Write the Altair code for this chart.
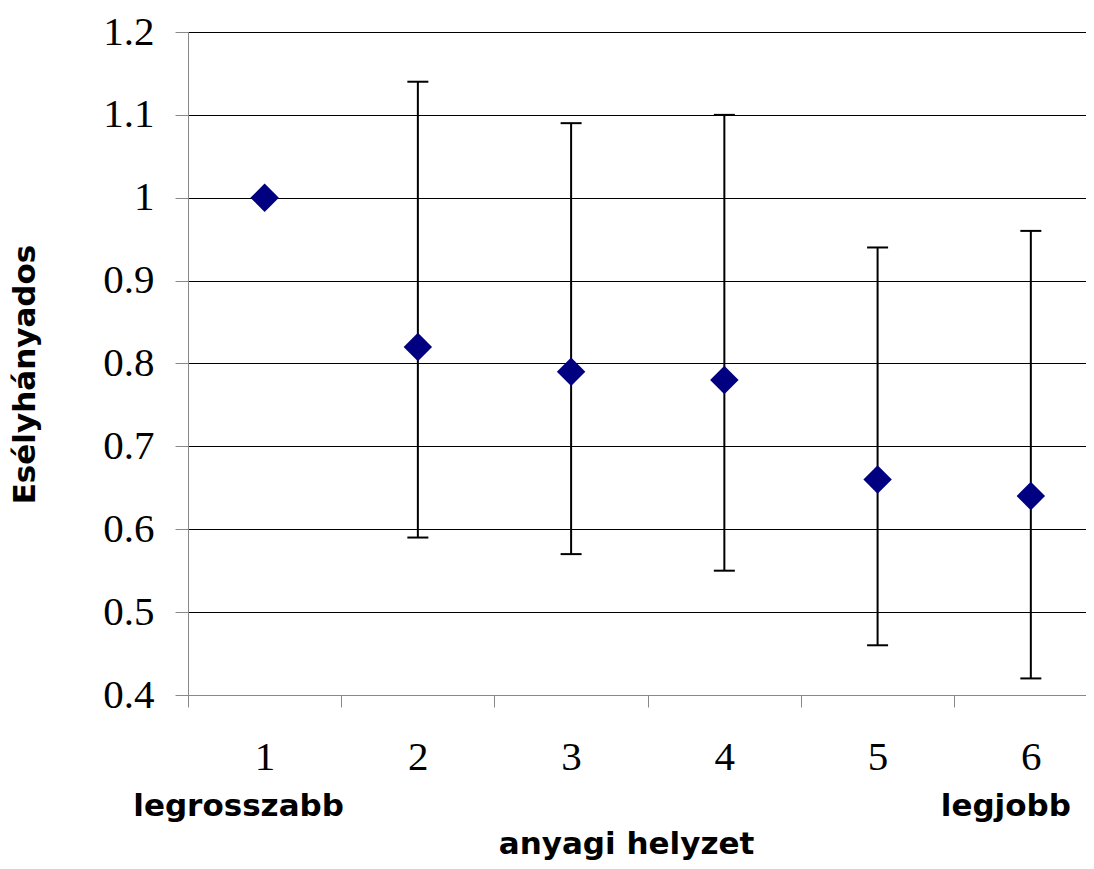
import altair as alt
import pandas as pd

# Data
categories = [1, 2, 3, 4, 5, 6]
odds_ratio = [1.00, 0.82, 0.79, 0.78, 0.66, 0.64]
ci_low = [None, 0.59, 0.57, 0.55, 0.46, 0.42]
ci_high = [None, 1.14, 1.09, 1.10, 0.94, 0.96]

y_ticks = [0.4, 0.5, 0.6, 0.7, 0.8, 0.9, 1.0, 1.1, 1.2]
x_axis_values = [0.5, 1, 1.5, 2, 2.5, 3, 3.5, 4, 4.5, 5, 5.5, 6]

end_labels = ["legrosszabb", "legjobb"]
end_categories = [1, 6]

y_title = "Esélyhányados"
x_title = "anyagi helyzet"

points = pd.DataFrame({"cat": categories, "or": odds_ratio})
errs = pd.DataFrame({"cat": categories, "lo": ci_low, "hi": ci_high}).dropna()
ann = pd.DataFrame({"cat": end_categories, "txt": end_labels})

serif = "Liberation Serif"
sans = "DejaVu Sans"

x_scale = alt.Scale(domain=[0.5, 6.36], nice=False, zero=False)
y_scale = alt.Scale(domain=[0.4, 1.2], nice=False, zero=False)

x_axis = alt.Axis(
    values=x_axis_values,
    labelExpr="datum.value % 1 === 0 ? '' + datum.value : ''",
    tickOpacity={"condition": {"test": "datum.value % 1 !== 0", "value": 1}, "value": 0},
    grid=False,
    tickSize=12,
    labelPadding=62,
    labelBaseline="alphabetic",
    labelFont=serif,
    labelFontSize=41,
    labelColor="black",
    labelOverlap=False,
    labelFlush=False,
    title=x_title,
    titleFont=sans,
    titleFontSize=31,
    titleFontWeight="bold",
    titleColor="black",
    titleBaseline="alphabetic",
    titleX=438,
    titleY=158,
    titleAnchor="middle",
)

y_axis = alt.Axis(
    values=y_ticks,
    format=".1~f",
    grid=True,
    gridColor="black",
    gridWidth=1,
    tickSize=13,
    labelPadding=21,
    labelFont=serif,
    labelFontSize=41,
    labelColor="black",
    labelOverlap=False,
    labelFlush=False,
    title=y_title,
    titleFont=sans,
    titleFontSize=31,
    titleFontWeight="bold",
    titleColor="black",
    titleBaseline="alphabetic",
    titleAngle=270,
    titleX=-154,
    titleY=342,
    titleAnchor="middle",
)

base_x = alt.X("cat:Q", scale=x_scale, axis=x_axis)

rules = alt.Chart(errs).mark_rule(color="black", strokeWidth=2).encode(
    x=base_x,
    y=alt.Y("lo:Q", scale=y_scale, axis=y_axis),
    y2="hi:Q",
)

caps_lo = alt.Chart(errs).mark_tick(
    color="black", orient="horizontal", size=21, thickness=2, opacity=1
).encode(x=alt.X("cat:Q", scale=x_scale), y=alt.Y("lo:Q", scale=y_scale))

caps_hi = alt.Chart(errs).mark_tick(
    color="black", orient="horizontal", size=21, thickness=2, opacity=1
).encode(x=alt.X("cat:Q", scale=x_scale), y=alt.Y("hi:Q", scale=y_scale))

pts = alt.Chart(points).mark_point(
    shape="diamond", filled=True, size=810, color="#000080", opacity=1
).encode(x=alt.X("cat:Q", scale=x_scale), y=alt.Y("or:Q", scale=y_scale))

ann_left = alt.Chart(ann[ann["cat"] == end_categories[0]]).mark_text(
    font=sans, fontSize=31, fontWeight="bold", color="black",
    baseline="alphabetic", align="center", dx=-26
).encode(x=alt.X("cat:Q", scale=x_scale), y=alt.value(784), text="txt:N")

ann_right = alt.Chart(ann[ann["cat"] == end_categories[1]]).mark_text(
    font=sans, fontSize=31, fontWeight="bold", color="black",
    baseline="alphabetic", align="center", dx=-25
).encode(x=alt.X("cat:Q", scale=x_scale), y=alt.value(784), text="txt:N")

chart = alt.layer(rules, caps_lo, caps_hi, pts, ann_left, ann_right).properties(
    width=898,
    height=663,
    autosize=alt.AutoSizeParams(type="none"),
    padding={"left": 180, "top": 24, "right": 0, "bottom": 166},
).configure_view(stroke=None).configure_axis(
    domainColor="black", domainWidth=1, tickColor="black", tickWidth=1
).configure(background="white")

chart.save("out.html", embed_options={"renderer": "svg", "actions": False})
